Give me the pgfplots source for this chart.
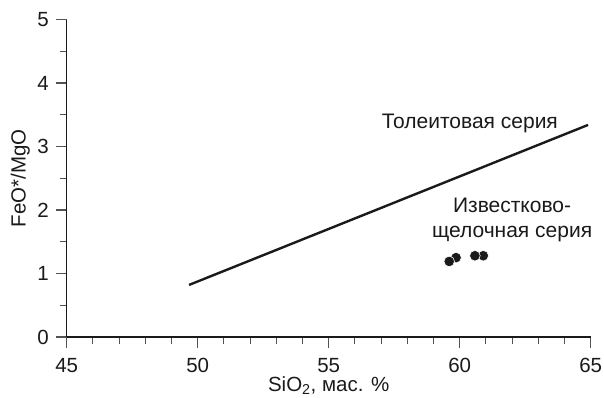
\documentclass[border=0pt]{standalone}
\usepackage{pgfplots}
\pgfplotsset{compat=1.18}
\usepackage{fontspec}
\setmainfont{Liberation Sans}
\definecolor{ink}{HTML}{1A1A1A}
\begin{document}
\fontsize{20}{24}\selectfont
\begin{tikzpicture}
\useasboundingbox (-66.7pt,-60pt) rectangle (537.3pt,337pt);
\begin{axis}[
  at={(0,0)}, anchor=south west,
  scale only axis, width=524pt, height=317.5pt,
  xmin=45, xmax=65, ymin=0, ymax=5,
  axis lines*=left,
  axis line style={ink, line width=1.1pt},
  xtick={45,50,...,65}, minor x tick num=4,
  ytick={0,1,...,5}, minor y tick num=1,
  tick align=outside,
  major tick length=11pt, minor tick length=7pt,
  every tick/.style={ink!75, line width=1.1pt},
  /pgf/number format/assume math mode=true,
  tick label style={font=\fontsize{20.5}{24}\selectfont, text=ink},
  xticklabel style={yshift=-3.5pt},
  label style={font=\fontsize{20.5}{24}\selectfont, text=ink},
  xlabel={SiO\textsubscript{2}, мас. \%},
  ylabel={FeO*/MgO},
  xlabel style={yshift=9.5pt},
  ylabel style={yshift=-6pt},
  clip=false,
]
\addplot[ink, line width=2.4pt] coordinates {(49.67,0.82) (64.9,3.34)};
\addplot[only marks, mark=*, mark size=5.3pt, ink, mark options={fill=ink, draw=white, line width=0.6pt}] coordinates {
(59.86,1.25) (59.6,1.19) (60.9,1.28) (60.58,1.28)};
\node[text=ink, font=\fontsize{21}{24}\selectfont] at (axis cs:60.39,3.37) {Толеитовая серия};
\node[text=ink, font=\fontsize{21}{25}\selectfont, align=center] at (axis cs:62.0,1.85) {Известково-\\щелочная серия};
\end{axis}
\end{tikzpicture}
\end{document}
